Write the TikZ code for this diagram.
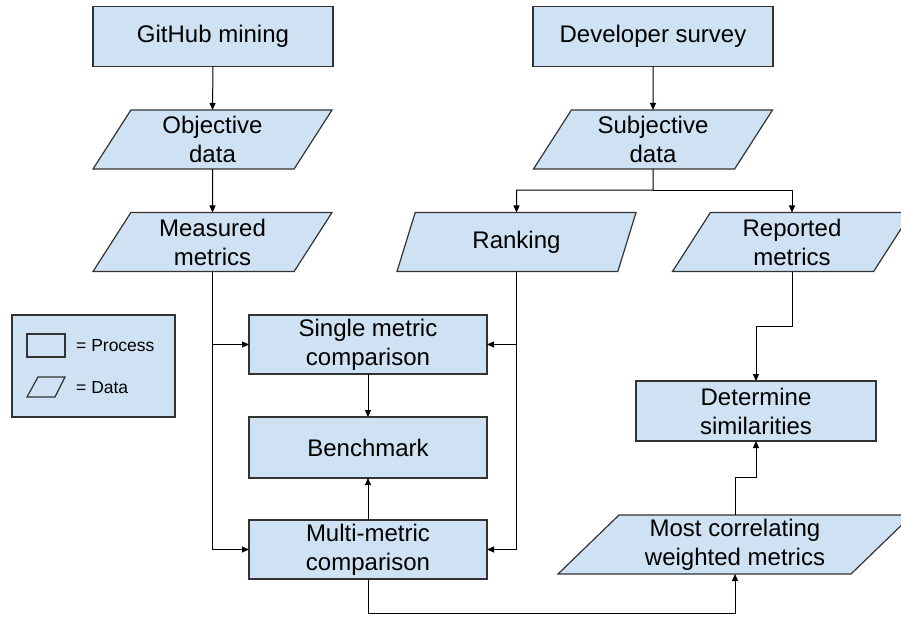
\documentclass[tikz,border=0pt]{standalone}
\usepackage{fontspec}
\setmainfont{Liberation Sans}
\usetikzlibrary{shapes.geometric,arrows.meta}
\definecolor{boxfill}{HTML}{CFE2F3}
\definecolor{boxline}{HTML}{333333}
\begin{document}
\begin{tikzpicture}[x=1pt,y=-1pt,
  base/.style={fill=boxfill,draw=boxline,line width=1.2pt,outer sep=0pt,inner sep=0pt,
    align=center,font=\fontsize{24}{29}\selectfont},
  procbox/.style={base,rectangle,minimum width=240,minimum height=60},
  databox/.style={base,trapezium,trapezium left angle=50.9,trapezium right angle=129.1,
    trapezium stretches body,minimum width=239,minimum height=59},
  arr/.style={draw=black,line width=1pt,-{Triangle[length=7pt,width=6pt]}},
  legtext/.style={anchor=base west,inner sep=0pt,font=\fontsize{17.5}{20}\selectfont}
]
\clip (0,0) rectangle (901,616);
\useasboundingbox (0,0) rectangle (901,616);

% left column
\node[procbox] (gh) at (213,36.5) {GitHub mining};
\node[databox] (obj) at (212.5,139.5) {Objective\\data};
\node[databox] (meas) at (212.5,242) {Measured\\metrics};

% right column
\node[procbox] (dev) at (653,36.5) {Developer survey};
\node[databox] (subj) at (653,139.5) {Subjective\\data};
\node[databox] (rank) at (516.5,242) {Ranking};
\node[databox] (rep) at (792,242) {Reported\\metrics};

% middle
\node[procbox,minimum width=238,minimum height=59] (single) at (368,344.5) {Single metric\\comparison};
\node[procbox,minimum width=238,minimum height=61] (bench) at (368,447.5) {Benchmark};
\node[procbox,minimum width=238,minimum height=59] (multi) at (368,549.5) {Multi-metric\\comparison};

\node[procbox] (det) at (756,411) {Determine\\similarities};
\node[databox,trapezium left angle=40.1,trapezium right angle=139.9,minimum width=354] (most) at (735,544.5) {Most correlating\\weighted metrics};

% legend
\node[base,rectangle,minimum width=163,minimum height=102] (legend) at (93.5,366) {};
\draw[draw=boxline,line width=1.2pt] (27,334) rectangle (65,357);
\draw[draw=boxline,line width=1.2pt] (27,397) -- (55,397) -- (65,377) -- (38,377) -- cycle;
\node[legtext] (lproc) at (76,351) {= Process};
\node[legtext] (ldata) at (76,393) {= Data};

% connectors
\draw[arr] (gh.south) -- (obj.north);
\draw[arr] (obj.south) -- (meas.north);
\draw[arr] (dev.south) -- (subj.north);
\coordinate (sj) at (653,190);
\draw[arr] (subj.south) -- (sj) -| (rank.north);
\draw[arr] (sj) -| (rep.north);

\draw[arr] (meas.south) |- (single.west);
\draw[arr] (meas.south) |- (multi.west);
\draw[arr] (rank.south) |- (single.east);
\draw[arr] (rank.south) |- (multi.east);

\draw[arr] (single.south) -- (bench.north);
\draw[arr] (multi.north) -- (bench.south);

\coordinate (mb) at (368,613);
\draw[arr] (multi.south) -- (mb) -| (most.south);
\draw[arr] (most.north) -- ++(0,-37) -| (det.south);
\draw[arr] (rep.south) -- ++(0,55) -| (det.north);
\end{tikzpicture}
\end{document}
